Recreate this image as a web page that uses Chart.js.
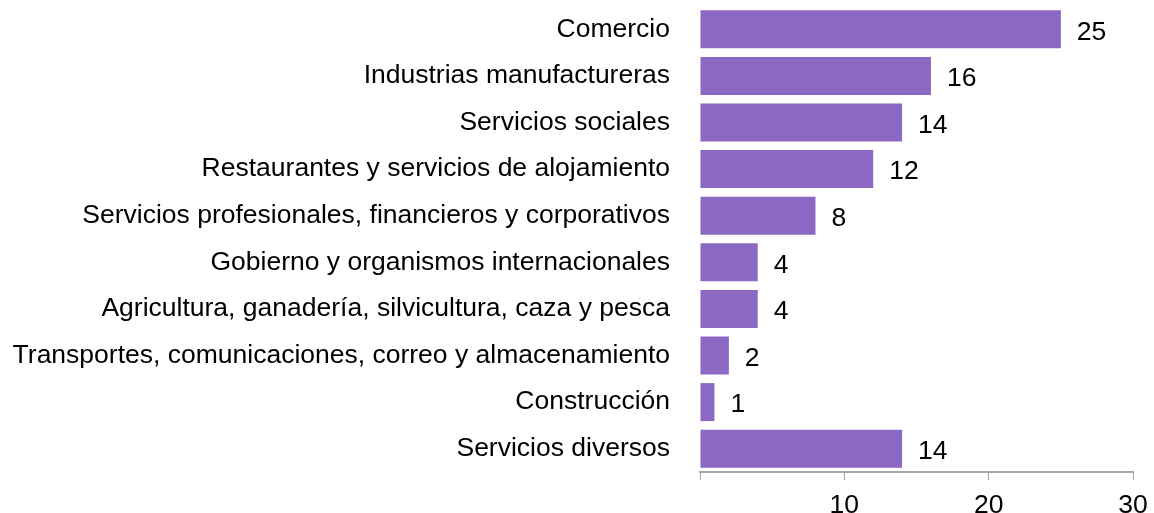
<!DOCTYPE html>
<html>
<head>
<meta charset="utf-8">
<script src="https://cdn.jsdelivr.net/npm/chart.js@4"></script>
<style>
    html, body { margin: 0; padding: 0; background: #fff; }
    #wrap { width: 1154px; height: 513px; }
</style>
</head>
<body>
<div id="wrap"><canvas id="c-sectores"></canvas></div>
<script>
const sectores = [
    'Comercio',
    'Industrias manufactureras',
    'Servicios sociales',
    'Restaurantes y servicios de alojamiento',
    'Servicios profesionales, financieros y corporativos',
    'Gobierno y organismos internacionales',
    'Agricultura, ganadería, silvicultura, caza y pesca',
    'Transportes, comunicaciones, correo y almacenamiento',
    'Construcción',
    'Servicios diversos'
];
const valores = [25, 16, 14, 12, 8, 4, 4, 2, 1, 14];
const ticksX = [0, 10, 20, 30];

const fuente = { family: '"Liberation Sans", Arial, sans-serif', size: 26.5 };

// numbers drawn just past the end of each bar
const etiquetas = {
    id: 'etiquetas',
    afterDatasetsDraw(chart) {
        const ctx = chart.ctx;
        const meta = chart.getDatasetMeta(0);
        ctx.save();
        ctx.font = fuente.size + 'px ' + fuente.family;
        ctx.fillStyle = '#000';
        ctx.textBaseline = 'middle';
        ctx.textAlign = 'left';
        meta.data.forEach((bar, i) => {
            ctx.fillText(String(valores[i]), bar.x + 16, bar.y + 3);
        });
        ctx.restore();
    }
};

const canvasSectores = document.querySelector('#c-sectores');
const chartSectores = new Chart(canvasSectores, {
    type: 'bar',
    data: {
        labels: sectores,
        datasets: [{
            label: 'sectores',
            data: valores,
            backgroundColor: '#8a68c4',
            borderWidth: 0,
            barPercentage: 0.815,
            categoryPercentage: 1
        }]
    },
    options: {
        indexAxis: 'y',
        responsive: true,
        maintainAspectRatio: false,
        animation: false,
        layout: {
            padding: { top: 0, right: 21, bottom: 0, left: 0 }
        },
        plugins: {
            legend: { display: false },
            tooltip: { enabled: false }
        },
        scales: {
            x: {
                min: 0,
                max: 30,
                afterBuildTicks: axis => {
                    axis.ticks = ticksX.map(v => ({ value: v }));
                },
                grid: {
                    drawOnChartArea: false,
                    drawTicks: true,
                    tickLength: 8,
                    color: '#a6a6a6'
                },
                border: { color: '#a6a6a6', width: 2 },
                ticks: {
                    color: '#000',
                    font: fuente,
                    padding: 10,
                    maxRotation: 0,
                    callback: v => (v === 0 ? '' : v)
                },
                afterFit: axis => {
                    axis.height = 41;
                    axis.paddingRight = 0;
                }
            },
            y: {
                grid: { display: false, drawTicks: false },
                border: { display: false },
                ticks: {
                    color: '#000',
                    font: fuente,
                    padding: 30,
                    autoSkip: false
                },
                afterFit: axis => {
                    axis.width = 700;
                    axis.paddingTop = 6;
                    axis.paddingBottom = 0;
                }
            }
        }
    },
    plugins: [etiquetas]
});
</script>
</body>
</html>
